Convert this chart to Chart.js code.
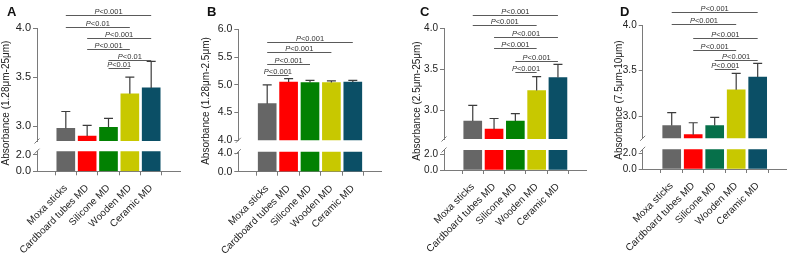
<!DOCTYPE html>
<html><head><meta charset="utf-8">
<script src="https://cdn.jsdelivr.net/npm/chart.js@4.4.1/dist/chart.umd.min.js"></script>
<style>
html,body{margin:0;padding:0;background:#fff;}
#wrap{position:relative;width:789px;height:254px;overflow:hidden;background:#fff;}
#wrap canvas{position:absolute;top:0;}
</style></head><body><div id="wrap"></div>
<script>
// ---------------- DATA ----------------
const categories = ['Moxa sticks', 'Cardboard tubes MD', 'Silicone MD', 'Wooden MD', 'Ceramic MD'];

const meanA = [2.98, 2.90, 2.99, 3.33, 3.39];
const sdA   = [0.17, 0.11, 0.09, 0.17, 0.27];
const meanB = [4.66, 5.05, 5.04, 5.04, 5.05];
const sdB   = [0.34, 0.06, 0.04, 0.03, 0.03];
const meanC = [2.87, 2.77, 2.87, 3.24, 3.40];
const sdC   = [0.19, 0.13, 0.09, 0.17, 0.16];
const meanD = [2.90, 2.80, 2.90, 3.29, 3.43];
const sdD   = [0.14, 0.13, 0.09, 0.18, 0.15];

const upperTicksA = [3.0, 3.5, 4.0];
const lowerTicksA = [0.0, 1.0, 2.0];
const upperTicksB = [4.0, 4.5, 5.0, 5.5, 6.0];
const lowerTicksB = [0.0, 2.0, 4.0];
const upperTicksC = [3.0, 3.5, 4.0];
const lowerTicksC = [0.0, 1.0, 2.0];
const upperTicksD = [3.0, 3.5, 4.0];
const lowerTicksD = [0.0, 2.0];

// significance brackets: [from index, to index, height (axis value), label]
const sigA = [[0,4,4.13,'P<0.001'],[0,3,4.01,'P<0.01'],[1,4,3.895,'P<0.001'],[1,3,3.786,'P<0.001'],[2,4,3.673,'P<0.01'],[2,3,3.589,'P<0.01']];
const sigB = [[0,4,5.78,'P<0.001'],[0,3,5.59,'P<0.001'],[0,2,5.38,'P<0.001'],[0,1,5.17,'P<0.001']];
const sigC = [[0,4,4.16,'P<0.001'],[0,3,4.04,'P<0.001'],[1,4,3.90,'P<0.001'],[1,3,3.76,'P<0.001'],[2,4,3.60,'P<0.001'],[2,3,3.47,'P<0.001']];
const sigD = [[0,4,4.145,'P<0.001'],[0,3,4.01,'P<0.001'],[1,4,3.855,'P<0.001'],[1,3,3.73,'P<0.001'],[2,4,3.62,'P<0.001'],[2,3,3.52,'P<0.001']];

const titleA = 'Absorbance (1.28μm-25μm)';
const titleB = 'Absorbance (1.28μm-2.5μm)';
const titleC = 'Absorbance (2.5μm-25μm)';
const titleD = 'Absorbance (7.5μm-10μm)';

// ---------------- STYLE / LAYOUT ----------------
const colorsABC = ['#666666', '#ff0000', '#028102', '#c8c800', '#0b4f66'];
const colorsD   = ['#666666', '#ff0000', '#06704a', '#c8c800', '#0b4f66'];
const AX = '#7a7a7a';
const TXT = '#222222';
const FONT = '"Liberation Sans", Arial, Helvetica, sans-serif';
const H = 254;

Chart.defaults.font.family = FONT;
Chart.defaults.color = TXT;

const panels = [
  {letter:'A', mean:meanA, sd:sdA, colors:colorsABC, upT:upperTicksA, loT:lowerTicksA, sig:sigA, title:titleA,
   g:{left:0, axisX:37, axisEnd:180, up:[28,141], lo:[151.2,171.3], upR:[2.85,4.0], loR:[0,2.4], titleX:6, titleY:103, letterX:7, yFont:11}},
  {letter:'B', mean:meanB, sd:sdB, colors:colorsABC, upT:upperTicksB, loT:lowerTicksB, sig:sigB, title:titleB,
   g:{left:185, axisX:238.3, axisEnd:381.7, up:[29.3,140.3], lo:[151.7,171.7], upR:[4.0,6.0], loR:[0,4.3], titleX:206, titleY:101, letterX:207, yFont:10.5}},
  {letter:'C', mean:meanC, sd:sdC, colors:colorsABC, upT:upperTicksC, loT:lowerTicksC, sig:sigC, title:titleC,
   g:{left:390, axisX:444, axisEnd:586.7, up:[28.3,139], lo:[150,170], upR:[2.65,4.0], loR:[0,2.5], titleX:417.5, titleY:101, letterX:420, yFont:10}},
  {letter:'D', mean:meanD, sd:sdD, colors:colorsD, upT:upperTicksD, loT:lowerTicksD, sig:sigD, title:titleD,
   g:{left:592, axisX:642.7, axisEnd:786.7, up:[25,138.3], lo:[149.3,169], upR:[2.76,4.0], loR:[0,2.5], titleX:619, titleY:100, letterX:620, yFont:10}}
];

const wrap = document.getElementById('wrap');

function slash(ctx, x, y) {
  ctx.save();
  ctx.strokeStyle = AX; ctx.lineWidth = 1;
  ctx.beginPath(); ctx.moveTo(x - 2.5, y + 2.5); ctx.lineTo(x + 2.5, y - 2.5); ctx.stroke();
  ctx.restore();
}

function buildPanel(p) {
  const g = p.g;
  const W = Math.ceil(g.axisEnd - g.left) + 1;
  const padRight = W - (g.axisEnd - g.left);
  const yW = g.axisX - g.left;

  const xScale = (show) => ({
    type: 'linear', min: -0.68, max: 4.68, display: show,
    afterBuildTicks: s => { s.ticks = categories.map((_, i) => ({value: i})); },
    afterFit: s => {
      s.paddingLeft = 0; s.paddingRight = 0; s.paddingTop = 0; s.paddingBottom = 0;
      s.height = show ? H - g.lo[1] : 0;
    },
    ticks: {autoSkip: false, minRotation: 45, maxRotation: 45, padding: 7, color: TXT,
            font: {size: 10}, callback: v => categories[v]},
    grid: {display: true, drawOnChartArea: false, drawTicks: true, tickLength: 4, color: AX, lineWidth: 1},
    border: {display: true, color: AX, width: 1}
  });
  const yScale = (range, ticks) => ({
    type: 'linear', min: range[0], max: range[1],
    afterBuildTicks: s => { s.ticks = ticks.map(v => ({value: v})); },
    afterFit: s => { s.width = yW; s.paddingTop = 0; s.paddingBottom = 0; },
    ticks: {color: TXT, font: {size: g.yFont}, padding: 2, callback: v => Number(v).toFixed(1)},
    grid: {drawOnChartArea: false, drawTicks: true, tickLength: 4, color: AX, lineWidth: 1},
    border: {display: true, color: AX, width: 1}
  });
  const dataset = () => ({
    data: p.mean.map((v, i) => ({x: i, y: v})),
    backgroundColor: p.colors, borderWidth: 0, barThickness: 18, clip: 0
  });

  // upper segment
  const cu = document.createElement('canvas');
  cu.width = W; cu.height = H; cu.style.left = g.left + 'px';
  wrap.appendChild(cu);
  const upperPlugin = {
    id: 'upperDecor',
    afterDatasetsDraw(chart) {
      const ctx = chart.ctx;
      const xs = chart.scales.x, ys = chart.scales.y;
      const meta = chart.getDatasetMeta(0);
      // error bars
      ctx.save();
      ctx.strokeStyle = '#3c3c3c'; ctx.lineWidth = 1.2;
      p.mean.forEach((m, i) => {
        const x = meta.data[i].x;
        const y0 = ys.getPixelForValue(m), y1 = ys.getPixelForValue(m + p.sd[i]);
        ctx.beginPath();
        ctx.moveTo(x, y0); ctx.lineTo(x, y1);
        ctx.moveTo(x - 4.5, y1); ctx.lineTo(x + 4.5, y1);
        ctx.stroke();
      });
      ctx.restore();
      // significance brackets
      ctx.save();
      p.sig.forEach(([a, b, v, label]) => {
        const x1 = xs.getPixelForValue(a), x2 = xs.getPixelForValue(b);
        const y = Math.round(ys.getPixelForValue(v)) + 0.5;
        ctx.strokeStyle = '#5a5a5a'; ctx.lineWidth = 1;
        ctx.beginPath(); ctx.moveTo(x1, y); ctx.lineTo(x2, y); ctx.stroke();
        const fI = 'italic 7.5px ' + FONT, fN = '7.5px ' + FONT;
        const head = label.charAt(0), rest = label.slice(1);
        ctx.font = fI; const w1 = ctx.measureText(head).width;
        ctx.font = fN; const w2 = ctx.measureText(rest).width;
        let sx = (x1 + x2) / 2 - (w1 + w2) / 2;
        ctx.fillStyle = '#333'; ctx.textBaseline = 'alphabetic'; ctx.textAlign = 'left';
        ctx.font = fI; ctx.fillText(head, sx, y - 1.5);
        ctx.font = fN; ctx.fillText(rest, sx + w1, y - 1.5);
      });
      ctx.restore();
    },
    afterDraw(chart) {
      const ctx = chart.ctx;
      const ca = chart.chartArea;
      slash(ctx, ca.left, ca.bottom);
      // axis title
      ctx.save();
      ctx.translate(g.titleX - g.left, g.titleY);
      ctx.rotate(-Math.PI / 2);
      ctx.font = '10px ' + FONT; ctx.fillStyle = TXT;
      ctx.textAlign = 'center'; ctx.textBaseline = 'middle';
      ctx.fillText(p.title, 0, 0);
      ctx.restore();
      // panel letter
      ctx.save();
      ctx.font = 'bold 13px ' + FONT; ctx.fillStyle = '#111';
      ctx.textAlign = 'left'; ctx.textBaseline = 'alphabetic';
      ctx.fillText(p.letter, g.letterX - g.left, 16);
      ctx.restore();
    }
  };
  new Chart(cu, {
    type: 'bar',
    data: {datasets: [dataset()]},
    options: {
      responsive: false, maintainAspectRatio: false, animation: false, devicePixelRatio: 1,
      layout: {padding: {top: g.up[0], bottom: H - g.up[1], left: 0, right: padRight}},
      plugins: {legend: {display: false}, tooltip: {enabled: false}},
      scales: {x: xScale(false), y: yScale(g.upR, p.upT)}
    },
    plugins: [upperPlugin]
  });

  // lower segment
  const cl = document.createElement('canvas');
  cl.width = W; cl.height = H; cl.style.left = g.left + 'px';
  wrap.appendChild(cl);
  const lowerPlugin = {
    id: 'lowerDecor',
    afterDraw(chart) {
      const ca = chart.chartArea;
      slash(chart.ctx, ca.left, ca.top);
    }
  };
  new Chart(cl, {
    type: 'bar',
    data: {datasets: [dataset()]},
    options: {
      responsive: false, maintainAspectRatio: false, animation: false, devicePixelRatio: 1,
      layout: {padding: {top: g.lo[0], bottom: 0, left: 0, right: padRight}},
      plugins: {legend: {display: false}, tooltip: {enabled: false}},
      scales: {x: xScale(true), y: yScale(g.loR, p.loT)}
    },
    plugins: [lowerPlugin]
  });
}

panels.forEach(buildPanel);
</script>
</body></html>
